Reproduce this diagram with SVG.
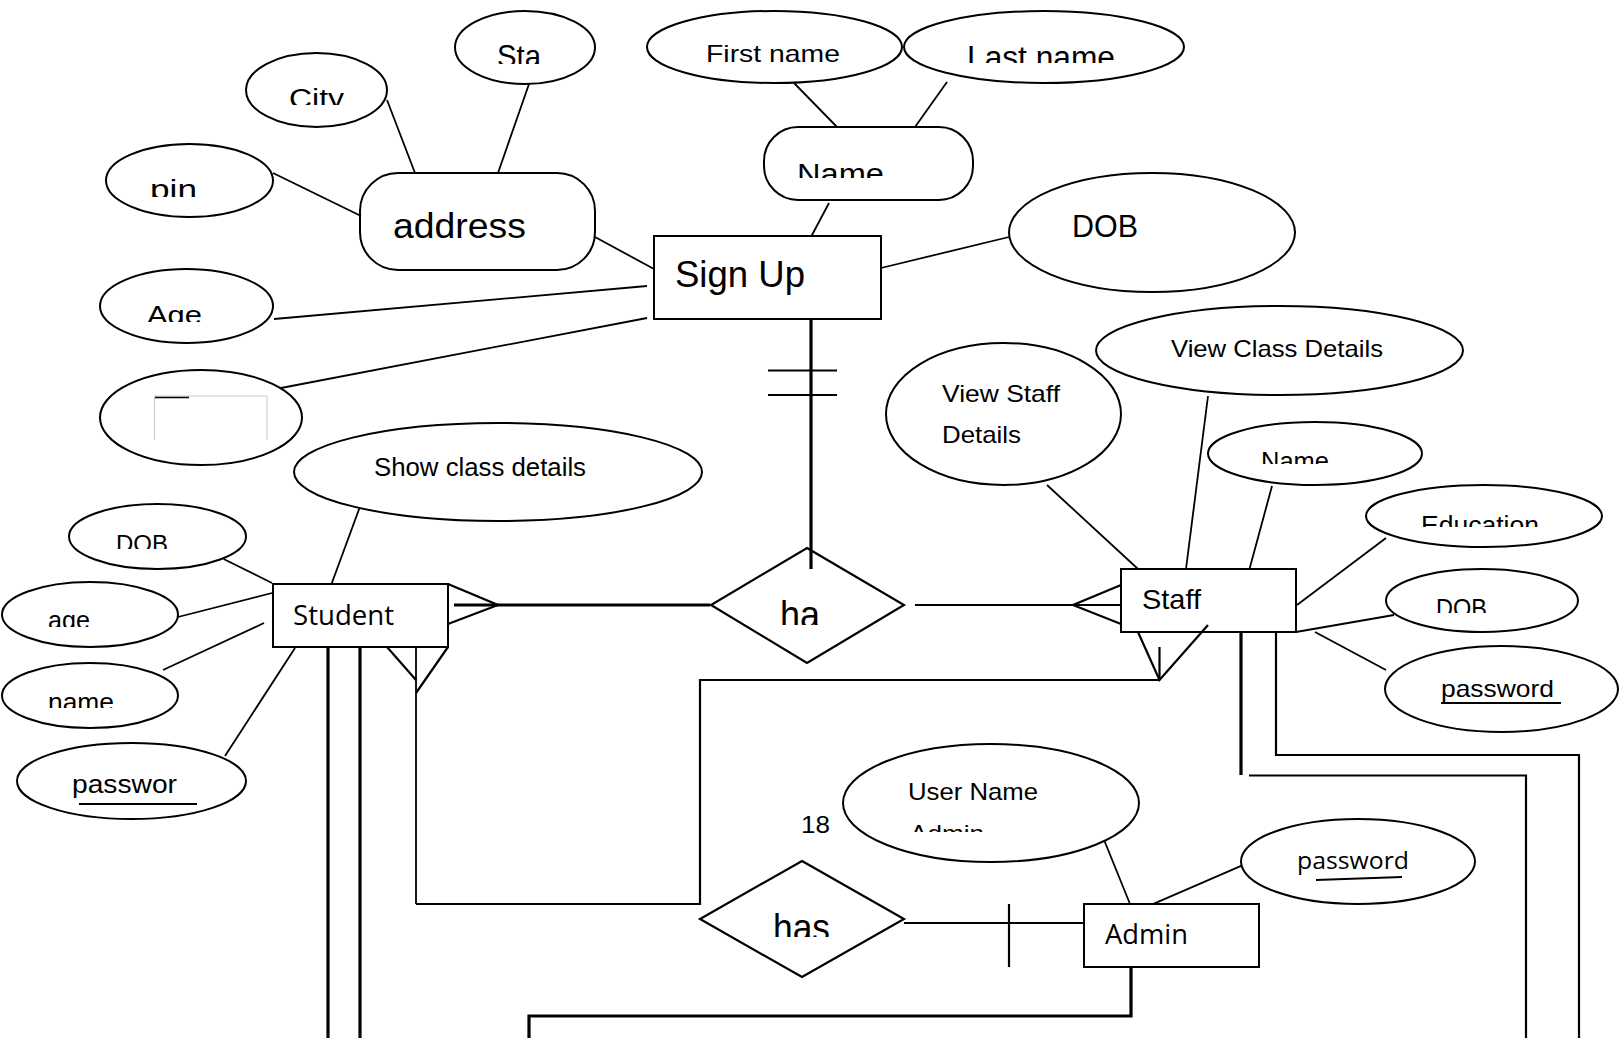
<svg xmlns="http://www.w3.org/2000/svg" width="1620" height="1038" viewBox="0 0 1620 1038">
<style>
.e{fill:#fff;stroke:#000;stroke-width:2}
.r{fill:#fff;stroke:#000;stroke-width:2}
.d{fill:#fff;stroke:#000;stroke-width:2.2}
.l{fill:none;stroke:#000;stroke-width:1.8}
.m{fill:none;stroke:#000;stroke-width:2.2}
.k{fill:none;stroke:#000;stroke-width:3.2}
.t{font-family:"Liberation Sans",Arial,sans-serif;fill:#000}
.o{font-family:"Open Sans","Liberation Sans",sans-serif;fill:#000}
</style>
<defs>
<clipPath id="cSta"><rect x="440" y="0" width="170" height="64"/></clipPath>
<clipPath id="cCity"><rect x="240" y="50" width="160" height="55"/></clipPath>
<clipPath id="cPin"><rect x="100" y="140" width="180" height="57"/></clipPath>
<clipPath id="cAge"><rect x="100" y="270" width="180" height="52"/></clipPath>
<clipPath id="cLast"><rect x="900" y="10" width="290" height="53"/></clipPath>
<clipPath id="cName"><rect x="770" y="130" width="200" height="48"/></clipPath>
<clipPath id="cSName"><rect x="1210" y="425" width="210" height="39"/></clipPath>
<clipPath id="cEdu"><rect x="1370" y="488" width="230" height="39"/></clipPath>
<clipPath id="cSDob"><rect x="1390" y="572" width="190" height="41"/></clipPath>
<clipPath id="cDob"><rect x="70" y="508" width="175" height="41"/></clipPath>
<clipPath id="cAgeS"><rect x="5" y="585" width="170" height="42"/></clipPath>
<clipPath id="cNameS"><rect x="5" y="666" width="170" height="42"/></clipPath>
<clipPath id="cAdm"><rect x="850" y="810" width="280" height="22"/></clipPath>
<clipPath id="cHas"><rect x="720" y="880" width="160" height="57"/></clipPath>
<clipPath id="cHa"><rect x="730" y="560" width="160" height="65"/></clipPath>
</defs>
<rect width="1620" height="1038" fill="#fff"/>

<g id="sta"><ellipse class="e" cx="525" cy="47.5" rx="70" ry="36.5"/><text class="t" x="497" y="67" font-size="32" textLength="44" lengthAdjust="spacingAndGlyphs" clip-path="url(#cSta)">Sta</text></g>
<g id="city"><ellipse class="e" cx="316.5" cy="90" rx="70.5" ry="37"/><text class="t" x="289" y="108" font-size="27" textLength="55" lengthAdjust="spacingAndGlyphs" clip-path="url(#cCity)">City</text></g>
<g id="pin"><ellipse class="e" cx="189.5" cy="180.5" rx="83.5" ry="36.5"/><text class="t" x="150" y="199" font-size="28" textLength="47" lengthAdjust="spacingAndGlyphs" clip-path="url(#cPin)">pin</text></g>
<g id="address"><rect class="r" x="360" y="173" width="235" height="97" rx="38"/><text class="t" x="393" y="238" font-size="35" textLength="133" lengthAdjust="spacingAndGlyphs">address</text></g>
<g id="age-top"><ellipse class="e" cx="186.5" cy="306" rx="86.5" ry="37"/><text class="t" x="147" y="324" font-size="26" textLength="55" lengthAdjust="spacingAndGlyphs" clip-path="url(#cAge)">Age</text></g>
<g id="blank"><ellipse class="e" cx="201" cy="417.5" rx="101" ry="47.5"/><path d="M154.5,440 V396 H267 V440" fill="none" stroke="#c8c8c8" stroke-width="1"/><line x1="155" y1="397.5" x2="189" y2="397.5" stroke="#000" stroke-width="1.5"/></g>
<g id="first-name"><ellipse class="e" cx="774.5" cy="47" rx="127.5" ry="36"/><text class="t" x="706" y="62" font-size="24" textLength="134" lengthAdjust="spacingAndGlyphs">First name</text></g>
<g id="last-name"><ellipse class="e" cx="1044" cy="47" rx="140" ry="36"/><text class="t" x="967" y="68" font-size="31" textLength="148" lengthAdjust="spacingAndGlyphs" clip-path="url(#cLast)">Last name</text></g>
<g id="name"><rect class="r" x="764" y="127" width="209" height="73" rx="34"/><text class="t" x="797" y="184" font-size="30" textLength="87" lengthAdjust="spacingAndGlyphs" clip-path="url(#cName)">Name</text></g>
<g id="signup"><rect class="r" x="654" y="236" width="227" height="83"/><text class="t" x="675" y="287" font-size="37" textLength="130" lengthAdjust="spacingAndGlyphs">Sign Up</text></g>
<g id="dob-top"><ellipse class="e" cx="1152" cy="232.5" rx="143" ry="59.5"/><text class="t" x="1072" y="237" font-size="31" textLength="66" lengthAdjust="spacingAndGlyphs">DOB</text></g>

<g id="view-staff"><ellipse class="e" cx="1003.5" cy="414" rx="117.5" ry="71"/><text class="t" x="942" y="402" font-size="24" textLength="118" lengthAdjust="spacingAndGlyphs">View Staff</text><text class="t" x="942" y="443" font-size="24" textLength="79" lengthAdjust="spacingAndGlyphs">Details</text></g>
<g id="view-class"><ellipse class="e" cx="1279.5" cy="350.5" rx="183.5" ry="44.5"/><text class="t" x="1171" y="357" font-size="24" textLength="212" lengthAdjust="spacingAndGlyphs">View Class Details</text></g>
<g id="staff-name"><ellipse class="e" cx="1315" cy="453.5" rx="107" ry="31.5"/><text class="t" x="1261" y="470" font-size="25" textLength="68" lengthAdjust="spacingAndGlyphs" clip-path="url(#cSName)">Name</text></g>
<g id="education"><ellipse class="e" cx="1484" cy="516" rx="118" ry="31"/><text class="t" x="1421" y="534" font-size="26" textLength="118" lengthAdjust="spacingAndGlyphs" clip-path="url(#cEdu)">Education</text></g>
<g id="staff-dob"><ellipse class="e" cx="1482" cy="600.5" rx="96" ry="31.5"/><text class="t" x="1436" y="617" font-size="25" textLength="51" lengthAdjust="spacingAndGlyphs" clip-path="url(#cSDob)">DOB</text></g>
<g id="staff-password"><ellipse class="e" cx="1501.5" cy="689" rx="116.5" ry="43"/><text class="t" x="1441" y="697" font-size="24" textLength="113" lengthAdjust="spacingAndGlyphs">password</text><line x1="1441" y1="703" x2="1561" y2="703" stroke="#000" stroke-width="2"/></g>
<g id="staff"><rect class="r" x="1121" y="569" width="175" height="63"/><text class="t" x="1142" y="609" font-size="28" textLength="59" lengthAdjust="spacingAndGlyphs">Staff</text></g>

<g id="show-class"><ellipse class="e" cx="498" cy="472" rx="204" ry="49"/><text class="t" x="374" y="476" font-size="25" textLength="212" lengthAdjust="spacingAndGlyphs">Show class details</text></g>
<g id="student-dob"><ellipse class="e" cx="157.5" cy="536.5" rx="88.5" ry="32.5"/><text class="t" x="116" y="552" font-size="24" textLength="52" lengthAdjust="spacingAndGlyphs" clip-path="url(#cDob)">DOB</text></g>
<g id="student-age"><ellipse class="e" cx="90" cy="614.5" rx="88" ry="32.5"/><text class="t" x="48" y="629" font-size="25" textLength="42" lengthAdjust="spacingAndGlyphs" clip-path="url(#cAgeS)">age</text></g>
<g id="student-name"><ellipse class="e" cx="90" cy="695.5" rx="88" ry="32.5"/><text class="t" x="48" y="711" font-size="26" textLength="66" lengthAdjust="spacingAndGlyphs" clip-path="url(#cNameS)">name</text></g>
<g id="student-password"><ellipse class="e" cx="131.5" cy="781" rx="114.5" ry="38"/><text class="t" x="72" y="793" font-size="25" textLength="105" lengthAdjust="spacingAndGlyphs">passwor</text><line x1="79" y1="804" x2="197" y2="804" stroke="#000" stroke-width="2"/></g>
<g id="student"><rect class="r" x="273" y="584" width="175" height="63"/><text class="o" x="293" y="625" font-size="27" textLength="101" lengthAdjust="spacingAndGlyphs">Student</text></g>

<g id="ha"><polygon class="d" points="807,548 904,605 807,663 711,605"/><text class="t" x="780" y="628" font-size="38" textLength="40" lengthAdjust="spacingAndGlyphs" clip-path="url(#cHa)">ha</text></g>
<g id="user-name"><ellipse class="e" cx="991" cy="803" rx="148" ry="59"/><text class="t" x="908" y="800" font-size="24" textLength="130" lengthAdjust="spacingAndGlyphs">User Name</text><text class="t" x="910" y="842" font-size="24" textLength="74" lengthAdjust="spacingAndGlyphs" clip-path="url(#cAdm)">Admin</text></g>
<g id="label-18"><text class="t" x="801" y="833" font-size="24" textLength="29" lengthAdjust="spacingAndGlyphs">18</text></g>
<g id="has"><polygon class="d" points="802,861 904,919 802,977 700,919"/><text class="t" x="773" y="941" font-size="38" textLength="57" lengthAdjust="spacingAndGlyphs" clip-path="url(#cHas)">has</text></g>
<g id="admin-password"><ellipse class="e" cx="1358" cy="861.5" rx="117" ry="42.5"/><text class="o" x="1297" y="869" font-size="24" textLength="112" lengthAdjust="spacingAndGlyphs">password</text><line x1="1316" y1="880" x2="1402" y2="877" stroke="#000" stroke-width="2"/></g>
<g id="admin"><rect class="r" x="1084" y="904" width="175" height="63"/><text class="o" x="1105" y="944" font-size="27" textLength="83" lengthAdjust="spacingAndGlyphs">Admin</text></g>

<g id="connectors">
<line class="l" x1="387" y1="100" x2="415" y2="173"/>
<line class="l" x1="529" y1="84" x2="498" y2="173"/>
<line class="l" x1="273" y1="173" x2="361" y2="216"/>
<line class="l" x1="595" y1="237" x2="654" y2="269"/>
<line class="l" x1="274" y1="319" x2="647" y2="286"/>
<line class="l" x1="281" y1="388" x2="647" y2="318"/>
<line class="l" x1="794" y1="83" x2="837" y2="127"/>
<line class="l" x1="947" y1="82" x2="915" y2="127"/>
<line class="l" x1="829" y1="203" x2="811.5" y2="236"/>
<line class="l" x1="881" y1="268" x2="1009" y2="237"/>
<line class="l" x1="1047" y1="485" x2="1138" y2="569"/>
<line class="l" x1="1208" y1="396" x2="1186" y2="569"/>
<line class="l" x1="1272" y1="486" x2="1249.5" y2="569"/>
<line class="l" x1="1386" y1="538" x2="1297" y2="605"/>
<line class="l" x1="1394" y1="615" x2="1296" y2="632"/>
<line class="l" x1="1315" y1="632" x2="1386" y2="670"/>
<line class="l" x1="223.6" y1="559" x2="272" y2="583"/>
<line class="l" x1="178" y1="617" x2="272" y2="593"/>
<line class="l" x1="163" y1="670" x2="264" y2="623"/>
<line class="l" x1="225" y1="756" x2="295" y2="648"/>
<line class="l" x1="359.5" y1="508" x2="331.5" y2="584"/>
<line class="l" x1="1104.5" y1="841" x2="1130" y2="904"/>
<line class="l" x1="1241.7" y1="865.7" x2="1154" y2="903.7"/>
<line class="k" x1="811" y1="319" x2="811" y2="569" stroke-width="3.4"/>
<line class="m" x1="768" y1="370.5" x2="837" y2="370.5" stroke-width="2.6"/>
<line class="m" x1="768" y1="395" x2="837" y2="395" stroke-width="2.6"/>
<line class="k" x1="454" y1="605" x2="710" y2="605"/>
<polyline class="m" points="448,584 498,605 448,624"/>
<line class="m" x1="915" y1="605" x2="1121" y2="605"/>
<polyline class="m" points="1121,585 1073,605 1121,624"/>
<polyline class="m" points="1138,632 1159.5,680 1208,625"/>
<line class="m" x1="1159.5" y1="647" x2="1159.5" y2="680"/>
<polyline class="m" points="1159.5,680 700,680 700,904 416,904"/>
<line class="l" x1="416" y1="647" x2="416" y2="904"/>
<polyline class="m" points="387,647 416,680"/>
<polyline class="m" points="448,647 416,693"/>
<line class="k" x1="328" y1="647" x2="328" y2="1038" stroke-width="3.4"/>
<line class="k" x1="360" y1="647" x2="360" y2="1038" stroke-width="3.4"/>
<line class="k" x1="1241" y1="632" x2="1241" y2="775" stroke-width="3.4"/>
<polyline class="m" points="1249,775.5 1526,775.5 1526,1038" stroke-width="2.6"/>
<polyline class="m" points="1276,632 1276,755 1579,755 1579,1038" stroke-width="2.6"/>
<line class="m" x1="904" y1="923" x2="1084" y2="923"/>
<line class="m" x1="1009" y1="904" x2="1009" y2="967" stroke-width="2.6"/>
<polyline class="k" points="1131,967 1131,1016 529,1016 529,1038"/>
</g>
</svg>
